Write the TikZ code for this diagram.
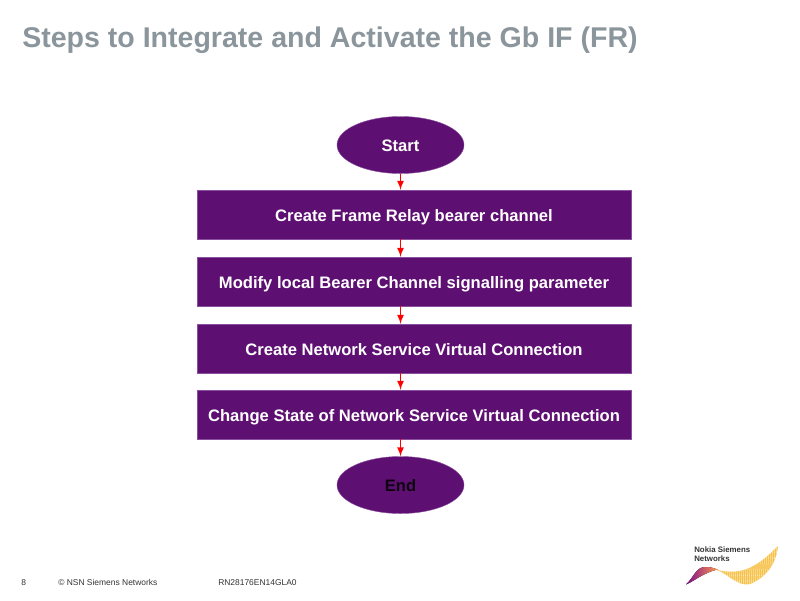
\documentclass[tikz,border=0pt]{standalone}
\usepackage{fontspec}
\setmainfont{Liberation Sans}
\usetikzlibrary{calc}
\usetikzlibrary{shapes.geometric}
\definecolor{flowpurple}{HTML}{5E0F72}
\definecolor{edgepurple}{HTML}{8A4F9E}
\definecolor{titlegray}{HTML}{8B959C}
\definecolor{wavegold}{HTML}{F7C24A}
\tikzset{
    terminal/.style={ellipse, draw=edgepurple, line width=0.3pt, fill=flowpurple, inner sep=0pt,
        minimum width=3.175cm, minimum height=1.425cm, text height=0.42cm, text depth=0.095cm,
        font=\fontsize{11.8}{14}\selectfont\bfseries},
    stepbox/.style={rectangle, draw=edgepurple, line width=0.3pt, fill=flowpurple, inner sep=0pt,
        minimum width=10.85cm, minimum height=1.225cm, text height=0.42cm, text depth=0.095cm,
        text=white, font=\fontsize{11.8}{14}\selectfont\bfseries},
    flowarrow/.style={draw=red, line width=1.2pt, -latex},
    footer/.style={anchor=base west, inner sep=0pt, text=black!80, font=\fontsize{6}{8}\selectfont},
}
\begin{document}
\begin{tikzpicture}[x=0.025cm, y=-0.025cm]
        \useasboundingbox (0, 0) rectangle (800, 600);
        \node[anchor=base west, inner sep=0pt, text=titlegray, font=\fontsize{20.3}{24}\selectfont\bfseries] (title) at (22, 47) {Steps to Integrate and Activate the Gb IF (FR)};
        %
        \node[terminal, text=white] (start) at (400.5, 145) {Start};
        \node[stepbox] (bearer) at (414, 214.5) {Create Frame Relay bearer channel};
        \node[stepbox] (signal) at (414, 281.5) {Modify local Bearer Channel signalling parameter};
        \node[stepbox] (nsvc) at (414, 348.5) {Create Network Service Virtual Connection};
        \node[stepbox] (state) at (414, 414.5) {Change State of Network Service Virtual Connection};
        \node[terminal, text=black!85!flowpurple] (finish) at (400.5, 485) {End};
        %
        \draw[flowarrow] (start.south) -- (start.south |- bearer.north);
        \draw[flowarrow] (start.south |- bearer.south) -- (start.south |- signal.north);
        \draw[flowarrow] (start.south |- signal.south) -- (start.south |- nsvc.north);
        \draw[flowarrow] (start.south |- nsvc.south) -- (start.south |- state.north);
        \draw[flowarrow] (start.south |- state.south) -- (finish.north);
        %
        \node[footer] (page) at (21, 585) {8};
        \node[footer] (copy) at (58, 585) {© NSN Siemens Networks};
        \node[footer] (code) at (218, 585) {RN28176EN14GLA0};
        %
        \node[anchor=base west, inner sep=0pt, align=left, text=black!80, font=\fontsize{5.6}{6.4}\selectfont\bfseries] (logo) at (694, 561) {Nokia Siemens\\Networks};
        \fill[left color=flowpurple!80!magenta, right color=orange!60!pink]
            (686, 584.5) .. controls (695, 576) and (696, 566) .. (707, 567)
            .. controls (712, 567) and (715, 569) .. (718, 569.5)
            .. controls (710, 571) and (708, 573) .. (703, 575)
            .. controls (697, 578) and (692, 582) .. (686, 584.5) -- cycle;
        \begin{scope}
            \clip (716, 569.5) .. controls (728, 573) and (742, 573) .. (755, 565)
                .. controls (765, 559) and (772, 552) .. (778, 546)
                .. controls (776, 565) and (765, 578) .. (750, 584)
                .. controls (738, 587) and (728, 574) .. (716, 569.5) -- cycle;
            \fill[wavegold] (710, 540) rectangle (780, 590);
            \foreach \i in {0,...,28} {
                \draw[white, line width=0.2pt] ({720+2*\i}, 544) -- ({722+2*\i}, 590);
            }
        \end{scope}
        %
    \end{tikzpicture}
\end{document}
